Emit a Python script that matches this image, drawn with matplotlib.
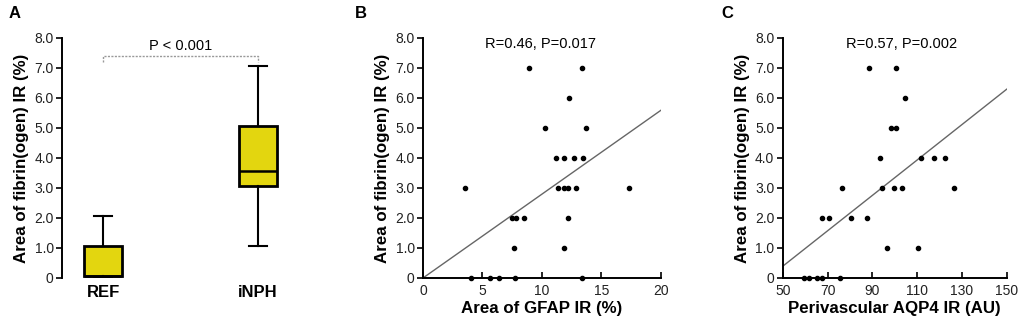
import matplotlib
matplotlib.use("Agg")
import matplotlib.pyplot as plt

plt.rcParams['font.family'] = ['Liberation Sans', 'DejaVu Sans']

# ------------------- Data ------------------- #

groups = ['REF', 'iNPH']
# whislo, q1, median, q3, whishi
ref_box = [0.0, 0.05, 0.05, 1.07, 2.07]
inph_box = [1.08, 3.07, 3.58, 5.07, 7.06]

gfap = [8.87, 13.37, 12.28, 10.27, 13.68, 11.16, 11.89, 12.67, 13.48,
        3.55, 11.38, 11.89, 12.17, 12.87, 17.31, 7.47, 7.78, 8.48, 12.17,
        7.66, 11.89, 4.01, 5.67, 6.37, 7.75, 13.37]
fib_b = [7, 7, 6, 5, 5, 4, 4, 4, 4,
         3, 3, 3, 3, 3, 3, 2, 2, 2, 2,
         1, 1, 0, 0, 0, 0, 0]

aqp4 = [88.4, 100.4, 104.5, 98.5, 100.4, 93.5, 111.6, 117.4, 122.5,
        76.3, 94.5, 99.6, 103.4, 126.5, 67.4, 70.5, 80.5, 87.5,
        96.6, 110.4, 59.4, 61.6, 65.5, 67.4, 75.4]
fib_c = [7, 7, 6, 5, 5, 4, 4, 4, 4,
         3, 3, 3, 3, 3, 2, 2, 2, 2,
         1, 1, 0, 0, 0, 0, 0]

# regression lines (endpoints)
fit_b_x = [0, 20]
fit_b_y = [0.0, 5.59]
fit_c_x = [50, 150]
fit_c_y = [0.39, 6.29]

y_ticks = [0, 1, 2, 3, 4, 5, 6, 7, 8]
y_labels = ['0', '1.0', '2.0', '3.0', '4.0', '5.0', '6.0', '7.0', '8.0']

YELLOW = '#E3D60F'
TICK_FS = 10
NOTE_FS = 10.5
LABEL_FS = 12.2

fig = plt.figure(figsize=(10.21, 3.21), dpi=100)
bottom, height = 0.134, 0.748
axA = fig.add_axes([0.0607, bottom, 0.232, height])
axB = fig.add_axes([0.4143, bottom, 0.2331, height])
axC = fig.add_axes([0.7666, bottom, 0.2194, height])


def style_y(ax, xpos):
    ax.set_ylim(0, 8)
    ax.set_yticks(y_ticks)
    ax.set_yticklabels(y_labels, fontsize=TICK_FS, color='#222222')
    ax.tick_params(axis='y', direction='out', length=4, width=1.2, pad=2)
    ax.spines['top'].set_visible(False)
    ax.spines['right'].set_visible(False)
    ax.spines['left'].set_linewidth(1.4)
    ax.set_ylabel('Area of fibrin(ogen) IR (%)', fontsize=LABEL_FS, fontweight='bold')
    ax.yaxis.set_label_coords(xpos, 0.5)


# ------------------- Panel A: box plot ------------------- #

stats = []
for name, b in zip(groups, [ref_box, inph_box]):
    stats.append({'label': name, 'whislo': b[0], 'q1': b[1], 'med': b[2],
                  'q3': b[3], 'whishi': b[4], 'fliers': []})
axA.bxp(stats, positions=[1, 2], widths=0.245, patch_artist=True,
        showfliers=False,
        boxprops=dict(facecolor=YELLOW, edgecolor='black', linewidth=2),
        medianprops=dict(color='black', linewidth=1.8),
        whiskerprops=dict(color='black', linewidth=1.5),
        capprops=dict(color='black', linewidth=1.5),
        capwidths=0.12)
axA.set_xlim(0.735, 2.265)
style_y(axA, -0.14)
axA.spines['bottom'].set_visible(False)
axA.tick_params(axis='x', length=0, pad=5)
axA.set_xticks([1, 2])
axA.set_xticklabels(groups, fontsize=12, fontweight='bold')

# significance bracket
axA.plot([1, 1, 2, 2], [7.2, 7.4, 7.4, 7.2], color='#999999', lw=1,
         linestyle=(0, (1.5, 1)), clip_on=False)
axA.text(1.5, 7.48, 'P < 0.001', ha='center', va='bottom', fontsize=NOTE_FS)

# ------------------- Panel B ------------------- #

axB.plot(fit_b_x, fit_b_y, color='#666666', lw=1)
axB.plot(gfap, fib_b, 'o', color='black', markersize=3, clip_on=False, zorder=3)
axB.set_xlim(0, 20)
axB.set_xticks([0, 5, 10, 15, 20])
axB.tick_params(axis='x', direction='in', length=4, width=1.2, labelsize=TICK_FS,
                labelcolor='#222222', pad=4)
axB.spines['bottom'].set_linewidth(1.4)
style_y(axB, -0.14)
axB.set_xlabel('Area of GFAP IR (%)', fontsize=LABEL_FS, fontweight='bold')
axB.xaxis.set_label_coords(0.5, -0.095)
axB.text(9.85, 7.55, 'R=0.46, P=0.017', ha='center', va='bottom', fontsize=NOTE_FS)

# ------------------- Panel C ------------------- #

axC.plot(fit_c_x, fit_c_y, color='#666666', lw=1)
axC.plot(aqp4, fib_c, 'o', color='black', markersize=3, clip_on=False, zorder=3)
axC.set_xlim(50, 150)
axC.set_xticks([50, 70, 90, 110, 130, 150])
axC.tick_params(axis='x', direction='in', length=4, width=1.2, labelsize=TICK_FS,
                labelcolor='#222222', pad=4)
axC.spines['bottom'].set_linewidth(1.4)
style_y(axC, -0.145)
axC.set_xlabel('Perivascular AQP4 IR (AU)', fontsize=LABEL_FS, fontweight='bold')
axC.xaxis.set_label_coords(0.5, -0.095)
axC.text(103, 7.55, 'R=0.57, P=0.002', ha='center', va='bottom', fontsize=NOTE_FS)

# panel letters
for letter, xp in zip(['A', 'B', 'C'], [15, 361, 727]):
    fig.text(xp / 1021, 1 - 13 / 321, letter, ha='center', va='center',
             fontsize=12, fontweight='bold')

fig.savefig('out.png', dpi=100)
